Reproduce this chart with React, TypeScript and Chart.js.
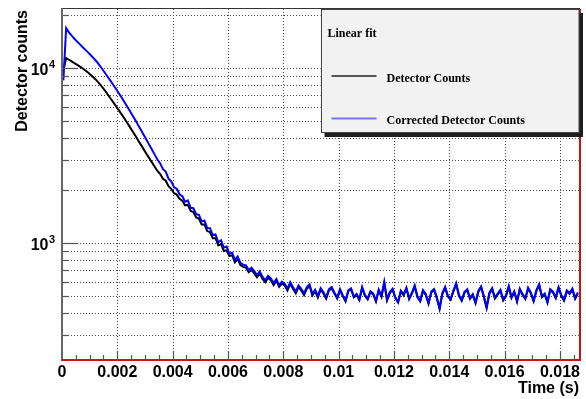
import React, { useEffect, useRef } from "react";
import { Chart, registerables } from "chart.js";

Chart.register(...registerables);

// Histogram bins are 0.1 ms wide; bin centres at (i + 0.5) * BIN_WIDTH
const BIN_WIDTH = 0.0001;
const X_MIN = 0;
const X_MAX = 0.01869;
const Y_MIN = 214.5;
const Y_MAX = 21740;

const detectorCounts: number[] = [
  9700, 11400, 11150, 10900, 10650, 10420, 10180, 9940, 9680, 9400,
  9100, 8800, 8500, 8150, 7800, 7440, 7070, 6720, 6380, 6060,
  5750, 5450, 5160, 4880, 4610, 4350, 4110, 3870, 3650, 3440,
  3240, 3060, 2890, 2730, 2580,
  2480, 2330, 2270, 2110, 2040, 1925, 1890, 1790, 1745, 1640,
  1655, 1525, 1505, 1400, 1380, 1275, 1275, 1170, 1155, 1065,
  1065, 968, 985, 900, 908,
  842, 852, 776, 812, 747, 730, 723, 680, 702, 671,
  637, 670, 623, 596, 633, 612, 575, 607, 561, 587,
  571, 535, 584, 547, 516, 559, 536, 504, 548, 568,
  502, 529, 488, 541, 515, 481, 535, 550,
  514, 482, 538, 497, 463, 530, 544, 489, 505, 472,
  553, 499, 476, 524, 508, 463, 535, 492, 590, 470,
  517, 542, 484, 457, 528, 502, 549, 478, 514, 564,
  490, 464, 532, 505, 450, 521, 540, 484, 420, 511,
  555, 494, 474, 529, 581, 498, 467, 519, 538, 480,
  504, 453, 525, 558, 492, 425, 513, 546, 482, 507,
  534, 470, 496, 560, 486, 523, 461, 541, 504, 478,
  549, 514, 464, 531, 574, 490, 508, 456, 538, 521,
  484, 553, 498, 468, 530, 511, 541, 480, 515,
];

const correctedDetectorCounts: number[] = [
  8500, 16900, 16000, 15300, 14700, 14150, 13650, 13150, 12700, 12250,
  11800, 11350, 10900, 10400, 9900, 9400, 8920, 8470, 8030, 7610,
  7200, 6800, 6420, 6050, 5700, 5360, 5040, 4730, 4440, 4160,
  3900, 3650, 3420, 3200, 3000,
  2850, 2640, 2560, 2330, 2250, 2080, 2040, 1900, 1850, 1720,
  1750, 1590, 1580, 1460, 1450, 1330, 1340, 1220, 1215, 1110,
  1120, 1010, 1035, 940, 955,
  870, 880, 800, 838, 770, 752, 745, 700, 722, 690,
  655, 688, 640, 612, 650, 628, 590, 622, 575, 602,
  585, 548, 598, 560, 528, 572, 548, 515, 560, 580,
  512, 540, 498, 552, 525, 490, 545, 560,
  520, 488, 545, 502, 470, 536, 551, 494, 512, 478,
  560, 505, 482, 530, 515, 468, 542, 498, 600, 476,
  524, 548, 490, 462, 535, 508, 556, 484, 520, 572,
  496, 470, 538, 512, 455, 528, 546, 490, 425, 518,
  562, 500, 480, 535, 590, 505, 472, 526, 544, 486,
  510, 458, 532, 565, 498, 430, 520, 552, 488, 514,
  540, 476, 502, 568, 492, 530, 466, 548, 510, 484,
  556, 520, 470, 538, 582, 496, 514, 462, 545, 528,
  490, 560, 505, 474, 536, 518, 548, 486, 522,
];

const xTickValues = [0, 0.002, 0.004, 0.006, 0.008, 0.01, 0.012, 0.014, 0.016, 0.018];
const xTickLabels = ["0", "0.002", "0.004", "0.006", "0.008", "0.01", "0.012", "0.014", "0.016", "0.018"];
const X_MINOR_STEP = 0.0005;
const yDecadeValues = [1000, 10000];
const yDecadeLabels = ["10", "10"];
const yDecadeExponents = ["3", "4"];
const yMinorValues = [300, 400, 500, 600, 700, 800, 900, 2000, 3000, 4000, 5000, 6000, 7000, 8000, 9000, 20000];

const xTitle = "Time (s)";
const yTitle = "Detector counts";
const legendTitle = "Linear fit";
const seriesNames = ["Detector Counts", "Corrected Detector Counts"];

const AXIS_FONT = '"Liberation Sans", Arial, Helvetica, sans-serif';
const LEGEND_FONT = '"Liberation Serif", "Times New Roman", serif';

const rootFramePlugin = {
  id: "rootFrame",
  beforeDatasetsDraw(chart: any) {
    const { ctx, chartArea: a, scales } = chart;
    const x = scales.x;
    const y = scales.y;
    ctx.save();
    ctx.strokeStyle = "#4a4a4a";
    ctx.lineWidth = 1;
    ctx.setLineDash([1, 2]);
    for (const v of xTickValues) {
      if (v <= X_MIN) continue;
      const px = Math.round(x.getPixelForValue(v)) + 0.5;
      ctx.beginPath();
      ctx.moveTo(px, a.top);
      ctx.lineTo(px, a.bottom);
      ctx.stroke();
    }
    for (const v of [...yDecadeValues, ...yMinorValues]) {
      const py = Math.round(y.getPixelForValue(v)) + 0.5;
      ctx.beginPath();
      ctx.moveTo(a.left, py);
      ctx.lineTo(a.right, py);
      ctx.stroke();
    }
    ctx.restore();
  },
  afterDatasetsDraw(chart: any) {
    const { ctx, chartArea: a, scales } = chart;
    const x = scales.x;
    const y = scales.y;
    ctx.save();
    ctx.setLineDash([]);

    // top frame
    ctx.strokeStyle = "#333";
    ctx.lineWidth = 1;
    ctx.beginPath();
    ctx.moveTo(a.left, a.top - 0.5);
    ctx.lineTo(a.right + 1, a.top - 0.5);
    ctx.stroke();

    // x ticks (inside, pointing up)
    ctx.strokeStyle = "#555";
    ctx.lineWidth = 1.2;
    for (let k = 1; k * X_MINOR_STEP <= X_MAX + 1e-12; k++) {
      const px = Math.round(x.getPixelForValue(k * X_MINOR_STEP)) + 0.5;
      const len = k % 4 === 0 ? 9 : 5;
      ctx.beginPath();
      ctx.moveTo(px, a.bottom);
      ctx.lineTo(px, a.bottom - len);
      ctx.stroke();
    }
    // y ticks (inside, pointing right)
    const yTicks: [number, number][] = [
      ...yDecadeValues.map((v) => [v, 15] as [number, number]),
      ...yMinorValues.map((v) => [v, 7] as [number, number]),
    ];
    for (const [v, len] of yTicks) {
      const py = Math.round(y.getPixelForValue(v)) + 0.5;
      ctx.beginPath();
      ctx.moveTo(a.left, py);
      ctx.lineTo(a.left + len, py);
      ctx.stroke();
    }

    // left axis
    ctx.strokeStyle = "#666";
    ctx.lineWidth = 2;
    ctx.beginPath();
    ctx.moveTo(a.left, a.top - 1);
    ctx.lineTo(a.left, a.bottom + 1);
    ctx.stroke();

    // bottom & right red lines
    ctx.strokeStyle = "#c81414";
    ctx.lineWidth = 2;
    ctx.beginPath();
    ctx.moveTo(a.left, a.bottom);
    ctx.lineTo(a.right + 2, a.bottom);
    ctx.moveTo(a.right + 1, a.top);
    ctx.lineTo(a.right + 1, a.bottom + 1);
    ctx.stroke();

    // x tick labels
    ctx.fillStyle = "#000";
    ctx.font = `bold 16px ${AXIS_FONT}`;
    ctx.textAlign = "center";
    ctx.textBaseline = "alphabetic";
    xTickValues.forEach((v, i) => {
      ctx.fillText(xTickLabels[i], x.getPixelForValue(v), a.bottom + 17);
    });

    // y tick labels with superscript exponents
    yDecadeValues.forEach((v, i) => {
      const py = y.getPixelForValue(v);
      ctx.font = `bold 16px ${AXIS_FONT}`;
      ctx.textAlign = "right";
      ctx.fillText(yDecadeLabels[i], a.left - 13.5, py + 7);
      ctx.font = `bold 11px ${AXIS_FONT}`;
      ctx.textAlign = "left";
      ctx.fillText(yDecadeExponents[i], a.left - 13, py);
    });

    // axis titles
    ctx.font = `bold 16px ${AXIS_FONT}`;
    ctx.textAlign = "right";
    ctx.fillText(xTitle, a.right, a.bottom + 33);
    ctx.save();
    ctx.translate(27, a.top + 1);
    ctx.rotate(-Math.PI / 2);
    ctx.textAlign = "right";
    ctx.fillText(yTitle, 0, 0);
    ctx.restore();

    // legend box (ROOT TLegend style with shadow)
    const bx = a.left + (a.right - a.left) * 0.5;
    const by = a.top;
    const bw = a.right - bx;
    const bh = 124;
    ctx.fillStyle = "#1e1e1e";
    ctx.fillRect(bx + 4, by + 4, bw, bh);
    ctx.fillStyle = "#f2f2f2";
    ctx.fillRect(bx, by, bw, bh);
    ctx.strokeStyle = "#444";
    ctx.lineWidth = 1;
    ctx.strokeRect(Math.round(bx) + 0.5, by + 0.5, bw - 1, bh - 1);

    ctx.fillStyle = "#000";
    ctx.font = `bold 12px ${LEGEND_FONT}`;
    ctx.textAlign = "left";
    ctx.fillText(legendTitle, bx + 7, by + 27.5);

    ctx.strokeStyle = "#222";
    ctx.lineWidth = 1.5;
    ctx.beginPath();
    ctx.moveTo(bx + 11, by + 67);
    ctx.lineTo(bx + 56, by + 67);
    ctx.stroke();
    ctx.fillText(seriesNames[0], bx + 66, by + 72.5);

    ctx.strokeStyle = "#7878ff";
    ctx.lineWidth = 2;
    ctx.beginPath();
    ctx.moveTo(bx + 11, by + 109.5);
    ctx.lineTo(bx + 56, by + 109.5);
    ctx.stroke();
    ctx.fillText(seriesNames[1], bx + 66, by + 114.5);

    ctx.restore();
  },
};

export default function App() {
  const canvasRef = useRef<HTMLCanvasElement | null>(null);

  useEffect(() => {
    const canvas = canvasRef.current;
    if (!canvas) return;
    const toPoints = (vals: number[]) =>
      vals.map((v, i) => ({ x: (i + 0.5) * BIN_WIDTH, y: v }));

    const chart = new Chart(canvas, {
      type: "line",
      data: {
        datasets: [
          {
            label: seriesNames[1],
            data: toPoints(correctedDetectorCounts),
            borderColor: "#0000ff",
            backgroundColor: "#0000ff",
            borderWidth: 2,
            pointRadius: 0,
            tension: 0,
            order: 0,
          },
          {
            label: seriesNames[0],
            data: toPoints(detectorCounts),
            borderColor: "#000000",
            backgroundColor: "#000000",
            borderWidth: 2,
            pointRadius: 0,
            tension: 0,
            order: 1,
          },
        ],
      },
      options: {
        responsive: false,
        animation: false,
        devicePixelRatio: 1,
        layout: { padding: { left: 62, top: 9, right: 7, bottom: 39 } },
        scales: {
          x: { type: "linear", min: X_MIN, max: X_MAX, display: false },
          y: { type: "logarithmic", min: Y_MIN, max: Y_MAX, display: false },
        },
        plugins: {
          legend: { display: false },
          tooltip: { enabled: false },
        },
        events: [],
      },
      plugins: [rootFramePlugin],
    });
    return () => chart.destroy();
  }, []);

  return (
    <div
      style={{
        position: "fixed",
        left: 0,
        top: 0,
        width: 586,
        height: 399,
        background: "#ffffff",
      }}
    >
      <canvas ref={canvasRef} width={586} height={399} style={{ width: 586, height: 399, display: "block" }} />
    </div>
  );
}
